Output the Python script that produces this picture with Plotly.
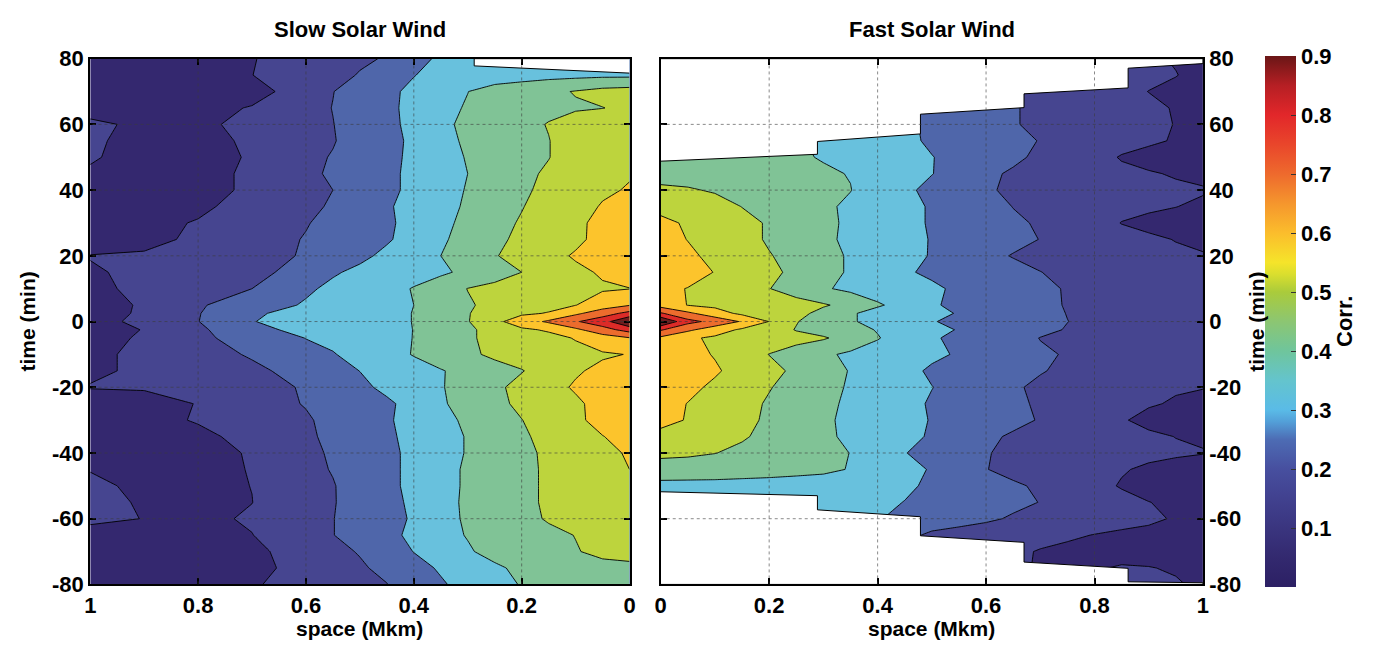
import plotly.graph_objects as go

# ---------------------------------------------------------------------------
# Space-time correlation maps of solar-wind fluctuations
# rows: time lag (min), columns: spatial separation (Mkm)
# ---------------------------------------------------------------------------
lag_min = [80, 75, 70, 65, 60, 55, 50, 45, 40, 35, 30, 25, 20, 15, 10, 5, 2.5, 0,
           -2.5, -5, -10, -15, -20, -25, -30, -35, -40, -45, -50, -55, -60, -65,
           -70, -75, -80]

space_slow = [0, 0.05, 0.1, 0.15, 0.2, 0.25, 0.3, 0.35, 0.4, 0.45, 0.5, 0.55,
              0.6, 0.7, 0.8, 0.9, 1.0]

corr_slow = [
    [0.34, 0.34, 0.34, 0.34, 0.34, 0.34, 0.335, 0.32, 0.26, 0.205, 0.19, 0.17, 0.15, 0.095, 0.08, 0.07, 0.07],
    [0.38, 0.38, 0.375, 0.37, 0.365, 0.36, 0.35, 0.33, 0.297, 0.26, 0.204, 0.18, 0.15, 0.099, 0.08, 0.07, 0.07],
    [0.54, 0.53, 0.505, 0.48, 0.45, 0.43, 0.399, 0.37, 0.32, 0.28, 0.24, 0.198, 0.14, 0.07, 0.06, 0.06, 0.06],
    [0.52, 0.498, 0.49, 0.475, 0.455, 0.43, 0.406, 0.38, 0.325, 0.28, 0.24, 0.202, 0.17, 0.105, 0.075, 0.07, 0.08],
    [0.58, 0.565, 0.54, 0.505, 0.47, 0.44, 0.415, 0.385, 0.32, 0.28, 0.24, 0.198, 0.175, 0.12, 0.085, 0.09, 0.11],
    [0.6, 0.58, 0.55, 0.497, 0.47, 0.44, 0.41, 0.38, 0.315, 0.275, 0.235, 0.195, 0.17, 0.11, 0.08, 0.085, 0.107],
    [0.6, 0.58, 0.55, 0.497, 0.47, 0.44, 0.405, 0.37, 0.315, 0.28, 0.24, 0.205, 0.18, 0.105, 0.08, 0.085, 0.104],
    [0.595, 0.58, 0.555, 0.515, 0.475, 0.445, 0.4, 0.365, 0.32, 0.28, 0.245, 0.213, 0.18, 0.11, 0.08, 0.07, 0.095],
    [0.605, 0.59, 0.565, 0.53, 0.48, 0.45, 0.405, 0.37, 0.32, 0.28, 0.24, 0.2, 0.175, 0.11, 0.08, 0.07, 0.065],
    [0.63, 0.605, 0.575, 0.545, 0.495, 0.455, 0.41, 0.375, 0.33, 0.29, 0.25, 0.21, 0.18, 0.13, 0.085, 0.07, 0.065],
    [0.65, 0.62, 0.585, 0.55, 0.51, 0.465, 0.42, 0.38, 0.33, 0.285, 0.255, 0.225, 0.195, 0.15, 0.105, 0.08, 0.07],
    [0.66, 0.63, 0.58, 0.55, 0.52, 0.48, 0.425, 0.39, 0.335, 0.29, 0.26, 0.23, 0.205, 0.16, 0.11, 0.085, 0.07],
    [0.67, 0.645, 0.61, 0.57, 0.53, 0.495, 0.44, 0.4, 0.37, 0.32, 0.28, 0.25, 0.21, 0.16, 0.125, 0.106, 0.102],
    [0.64, 0.61, 0.58, 0.545, 0.5, 0.46, 0.42, 0.385, 0.365, 0.345, 0.32, 0.29, 0.24, 0.17, 0.13, 0.11, 0.095],
    [0.598, 0.59, 0.575, 0.56, 0.54, 0.525, 0.502, 0.45, 0.405, 0.37, 0.345, 0.32, 0.285, 0.2, 0.16, 0.115, 0.085],
    [0.695, 0.65, 0.598, 0.575, 0.555, 0.525, 0.49, 0.445, 0.4, 0.37, 0.35, 0.33, 0.31, 0.25, 0.19, 0.104, 0.085],
    [0.83, 0.755, 0.68, 0.605, 0.585, 0.545, 0.495, 0.45, 0.402, 0.38, 0.36, 0.345, 0.325, 0.29, 0.195, 0.105, 0.085],
    [1.0, 0.86, 0.79, 0.715, 0.65, 0.575, 0.495, 0.45, 0.402, 0.38, 0.365, 0.35, 0.335, 0.297, 0.198, 0.107, 0.09],
    [0.84, 0.76, 0.68, 0.61, 0.585, 0.54, 0.48, 0.445, 0.401, 0.38, 0.36, 0.345, 0.32, 0.28, 0.18, 0.101, 0.088],
    [0.695, 0.655, 0.605, 0.575, 0.555, 0.53, 0.485, 0.44, 0.402, 0.37, 0.345, 0.32, 0.302, 0.24, 0.18, 0.105, 0.085],
    [0.603, 0.59, 0.575, 0.56, 0.545, 0.52, 0.48, 0.44, 0.405, 0.365, 0.33, 0.295, 0.27, 0.21, 0.16, 0.115, 0.085],
    [0.645, 0.62, 0.59, 0.545, 0.495, 0.46, 0.425, 0.395, 0.365, 0.34, 0.301, 0.27, 0.235, 0.18, 0.135, 0.11, 0.09],
    [0.67, 0.645, 0.61, 0.57, 0.53, 0.48, 0.43, 0.395, 0.37, 0.32, 0.28, 0.25, 0.21, 0.16, 0.125, 0.105, 0.103],
    [0.66, 0.63, 0.585, 0.55, 0.52, 0.475, 0.43, 0.39, 0.33, 0.285, 0.26, 0.23, 0.205, 0.16, 0.102, 0.08, 0.07],
    [0.655, 0.625, 0.585, 0.545, 0.498, 0.46, 0.415, 0.375, 0.33, 0.29, 0.255, 0.225, 0.19, 0.145, 0.105, 0.08, 0.07],
    [0.625, 0.598, 0.57, 0.53, 0.485, 0.45, 0.405, 0.37, 0.325, 0.285, 0.25, 0.22, 0.185, 0.12, 0.085, 0.07, 0.065],
    [0.604, 0.59, 0.56, 0.515, 0.48, 0.445, 0.405, 0.37, 0.32, 0.28, 0.245, 0.21, 0.18, 0.105, 0.08, 0.07, 0.065],
    [0.6, 0.585, 0.555, 0.515, 0.475, 0.44, 0.41, 0.375, 0.32, 0.28, 0.245, 0.205, 0.175, 0.103, 0.08, 0.085, 0.098],
    [0.6, 0.585, 0.555, 0.515, 0.475, 0.44, 0.41, 0.375, 0.32, 0.28, 0.24, 0.195, 0.17, 0.101, 0.08, 0.09, 0.11],
    [0.6, 0.585, 0.555, 0.515, 0.475, 0.44, 0.41, 0.38, 0.315, 0.275, 0.235, 0.195, 0.17, 0.099, 0.08, 0.095, 0.115],
    [0.59, 0.58, 0.55, 0.508, 0.475, 0.44, 0.41, 0.375, 0.31, 0.27, 0.235, 0.198, 0.175, 0.11, 0.08, 0.098, 0.12],
    [0.56, 0.54, 0.502, 0.48, 0.46, 0.435, 0.405, 0.37, 0.32, 0.275, 0.235, 0.198, 0.17, 0.098, 0.08, 0.07, 0.065],
    [0.53, 0.52, 0.495, 0.47, 0.45, 0.43, 0.39, 0.35, 0.302, 0.255, 0.205, 0.18, 0.14, 0.08, 0.07, 0.065, 0.065],
    [0.48, 0.475, 0.465, 0.45, 0.42, 0.385, 0.35, 0.31, 0.27, 0.22, 0.19, 0.17, 0.13, 0.075, 0.065, 0.065, 0.065],
    [0.46, 0.45, 0.44, 0.425, 0.405, 0.37, 0.33, 0.29, 0.25, 0.198, 0.18, 0.16, 0.14, 0.09, 0.07, 0.07, 0.07],
]

space_fast = [0, 0.05, 0.1, 0.15, 0.2, 0.25, 0.3, 0.35, 0.4, 0.45, 0.5, 0.55,
              0.6, 0.65, 0.7, 0.75, 0.8, 0.85, 0.9, 0.95, 1.0]

corr_fast = [
    [0.44, 0.44, 0.43, 0.42, 0.41, 0.4, 0.37, 0.35, 0.33, 0.31, 0.29, 0.27, 0.24, 0.2, 0.18, 0.165, 0.15, 0.13, 0.11, 0.095, 0.08],
    [0.44, 0.44, 0.43, 0.42, 0.41, 0.4, 0.37, 0.35, 0.33, 0.31, 0.29, 0.27, 0.24, 0.2, 0.18, 0.165, 0.15, 0.13, 0.115, 0.102, 0.08],
    [0.44, 0.44, 0.43, 0.42, 0.41, 0.4, 0.37, 0.35, 0.33, 0.31, 0.29, 0.27, 0.24, 0.2, 0.18, 0.16, 0.14, 0.12, 0.099, 0.085, 0.075],
    [0.44, 0.44, 0.43, 0.42, 0.41, 0.4, 0.37, 0.35, 0.33, 0.31, 0.29, 0.27, 0.24, 0.205, 0.185, 0.165, 0.145, 0.13, 0.115, 0.095, 0.075],
    [0.44, 0.44, 0.43, 0.42, 0.41, 0.4, 0.37, 0.35, 0.33, 0.31, 0.29, 0.27, 0.245, 0.205, 0.185, 0.165, 0.145, 0.13, 0.115, 0.098, 0.08],
    [0.44, 0.44, 0.43, 0.42, 0.415, 0.41, 0.38, 0.36, 0.34, 0.315, 0.29, 0.27, 0.255, 0.235, 0.195, 0.165, 0.14, 0.125, 0.11, 0.095, 0.075],
    [0.44, 0.44, 0.43, 0.42, 0.415, 0.41, 0.395, 0.37, 0.35, 0.33, 0.302, 0.28, 0.26, 0.215, 0.185, 0.155, 0.125, 0.095, 0.08, 0.07, 0.065],
    [0.46, 0.455, 0.45, 0.44, 0.43, 0.42, 0.41, 0.397, 0.37, 0.335, 0.302, 0.27, 0.215, 0.19, 0.17, 0.15, 0.13, 0.115, 0.105, 0.095, 0.085],
    [0.52, 0.51, 0.49, 0.475, 0.46, 0.445, 0.43, 0.402, 0.355, 0.315, 0.28, 0.25, 0.21, 0.185, 0.165, 0.15, 0.14, 0.13, 0.12, 0.11, 0.105],
    [0.575, 0.56, 0.54, 0.498, 0.47, 0.445, 0.415, 0.385, 0.36, 0.33, 0.29, 0.26, 0.235, 0.198, 0.17, 0.15, 0.135, 0.12, 0.11, 0.101, 0.09],
    [0.62, 0.59, 0.56, 0.53, 0.49, 0.455, 0.42, 0.385, 0.36, 0.33, 0.29, 0.265, 0.24, 0.215, 0.19, 0.16, 0.13, 0.098, 0.085, 0.08, 0.075],
    [0.63, 0.598, 0.565, 0.53, 0.49, 0.455, 0.415, 0.385, 0.36, 0.33, 0.295, 0.27, 0.245, 0.225, 0.198, 0.17, 0.145, 0.125, 0.11, 0.098, 0.085],
    [0.64, 0.615, 0.58, 0.545, 0.505, 0.47, 0.43, 0.39, 0.36, 0.325, 0.295, 0.26, 0.225, 0.195, 0.17, 0.15, 0.135, 0.125, 0.115, 0.11, 0.105],
    [0.65, 0.625, 0.598, 0.56, 0.52, 0.48, 0.43, 0.39, 0.35, 0.31, 0.285, 0.265, 0.25, 0.23, 0.202, 0.175, 0.155, 0.14, 0.13, 0.12, 0.11],
    [0.615, 0.598, 0.57, 0.54, 0.502, 0.465, 0.41, 0.38, 0.36, 0.34, 0.315, 0.285, 0.26, 0.24, 0.215, 0.195, 0.17, 0.15, 0.135, 0.125, 0.115],
    [0.66, 0.597, 0.58, 0.56, 0.545, 0.53, 0.51, 0.47, 0.41, 0.37, 0.31, 0.28, 0.26, 0.24, 0.22, 0.195, 0.17, 0.15, 0.135, 0.125, 0.115],
    [0.81, 0.72, 0.64, 0.58, 0.56, 0.53, 0.47, 0.41, 0.37, 0.345, 0.32, 0.295, 0.27, 0.25, 0.225, 0.198, 0.175, 0.155, 0.14, 0.13, 0.12],
    [1.0, 0.83, 0.77, 0.69, 0.598, 0.505, 0.45, 0.41, 0.37, 0.34, 0.305, 0.28, 0.26, 0.24, 0.22, 0.201, 0.18, 0.16, 0.145, 0.13, 0.12],
    [0.81, 0.72, 0.645, 0.585, 0.55, 0.495, 0.46, 0.43, 0.395, 0.36, 0.325, 0.295, 0.27, 0.25, 0.22, 0.195, 0.175, 0.155, 0.14, 0.13, 0.12],
    [0.68, 0.615, 0.585, 0.565, 0.55, 0.53, 0.51, 0.46, 0.405, 0.36, 0.31, 0.28, 0.255, 0.23, 0.198, 0.18, 0.165, 0.15, 0.14, 0.13, 0.12],
    [0.65, 0.625, 0.595, 0.55, 0.498, 0.46, 0.415, 0.385, 0.365, 0.345, 0.32, 0.29, 0.265, 0.24, 0.21, 0.195, 0.175, 0.155, 0.14, 0.13, 0.12],
    [0.66, 0.635, 0.61, 0.57, 0.53, 0.48, 0.44, 0.395, 0.365, 0.33, 0.285, 0.26, 0.24, 0.225, 0.205, 0.185, 0.165, 0.15, 0.135, 0.12, 0.11],
    [0.65, 0.62, 0.585, 0.545, 0.505, 0.465, 0.43, 0.39, 0.365, 0.335, 0.302, 0.27, 0.24, 0.21, 0.185, 0.16, 0.14, 0.125, 0.115, 0.105, 0.102],
    [0.63, 0.598, 0.565, 0.53, 0.49, 0.455, 0.42, 0.385, 0.36, 0.33, 0.29, 0.265, 0.24, 0.215, 0.19, 0.165, 0.14, 0.12, 0.105, 0.095, 0.085],
    [0.625, 0.595, 0.56, 0.525, 0.485, 0.45, 0.415, 0.38, 0.36, 0.33, 0.295, 0.27, 0.245, 0.22, 0.195, 0.165, 0.135, 0.105, 0.085, 0.075, 0.07],
    [0.575, 0.56, 0.54, 0.51, 0.475, 0.445, 0.415, 0.385, 0.36, 0.325, 0.29, 0.255, 0.215, 0.19, 0.17, 0.15, 0.135, 0.12, 0.11, 0.099, 0.095],
    [0.52, 0.515, 0.502, 0.48, 0.465, 0.45, 0.435, 0.398, 0.355, 0.303, 0.27, 0.24, 0.205, 0.18, 0.16, 0.145, 0.135, 0.125, 0.115, 0.108, 0.102],
    [0.46, 0.455, 0.45, 0.445, 0.44, 0.43, 0.42, 0.395, 0.37, 0.34, 0.29, 0.245, 0.202, 0.18, 0.16, 0.14, 0.12, 0.105, 0.09, 0.08, 0.075],
    [0.37, 0.37, 0.37, 0.365, 0.36, 0.355, 0.35, 0.34, 0.33, 0.315, 0.285, 0.26, 0.235, 0.21, 0.19, 0.155, 0.12, 0.095, 0.08, 0.075, 0.07],
    [0.36, 0.36, 0.36, 0.355, 0.35, 0.345, 0.34, 0.33, 0.32, 0.298, 0.275, 0.255, 0.235, 0.22, 0.198, 0.17, 0.145, 0.12, 0.101, 0.09, 0.08],
    [0.35, 0.35, 0.35, 0.345, 0.34, 0.335, 0.33, 0.32, 0.305, 0.28, 0.26, 0.24, 0.215, 0.19, 0.17, 0.15, 0.135, 0.12, 0.11, 0.095, 0.085],
    [0.35, 0.35, 0.35, 0.345, 0.34, 0.33, 0.32, 0.302, 0.27, 0.23, 0.18, 0.16, 0.15, 0.14, 0.125, 0.11, 0.098, 0.09, 0.085, 0.08, 0.075],
    [0.35, 0.35, 0.35, 0.345, 0.34, 0.33, 0.32, 0.3, 0.27, 0.23, 0.17, 0.15, 0.135, 0.115, 0.095, 0.085, 0.08, 0.08, 0.08, 0.08, 0.075],
    [0.35, 0.35, 0.35, 0.345, 0.34, 0.33, 0.32, 0.3, 0.27, 0.23, 0.18, 0.16, 0.14, 0.12, 0.09, 0.09, 0.095, 0.105, 0.102, 0.095, 0.085],
    [0.35, 0.35, 0.35, 0.345, 0.34, 0.33, 0.32, 0.3, 0.27, 0.23, 0.18, 0.16, 0.14, 0.12, 0.09, 0.09, 0.098, 0.11, 0.11, 0.105, 0.09],
]

# limits of the lag range with valid samples (outside them no correlation exists)
slow_edge_space = [0, 0.288, 0.288]
slow_top_lag = [75.6, 77.8, 80]

fast_edge_space = [0, 0.289, 0.289, 0.479, 0.479, 0.67, 0.67, 0.862, 0.862, 1.0]
fast_top_lag = [48.8, 50.9, 54.8, 57.1, 63.1, 65.1, 69.3, 71.1, 77.1, 78.5]
fast_bottom_lag = [-51.8, -53.0, -57.3, -59.4, -65.2, -67.2, -73.2, -75.1, -79.2, -79.5]

space_ticks = [0, 0.2, 0.4, 0.6, 0.8, 1.0]
space_ticktext = ["0", "0.2", "0.4", "0.6", "0.8", "1"]
lag_ticks = [-80, -60, -40, -20, 0, 20, 40, 60, 80]
lag_ticktext = ["-80", "-60", "-40", "-20", "0", "20", "40", "60", "80"]
corr_ticks = [0.1, 0.2, 0.3, 0.4, 0.5, 0.6, 0.7, 0.8, 0.9]
corr_ticktext = ["0.1", "0.2", "0.3", "0.4", "0.5", "0.6", "0.7", "0.8", "0.9"]

# filled-contour band colours (band k spans k/10 .. (k+1)/10)
band_colors = ["#34286f", "#464590", "#4f66aa", "#68c1dd", "#80c396",
               "#bdd43d", "#fcc42c", "#ec6c2d", "#dc2b28", "#6e1d1e"]
band_scale = [[k / 9, c] for k, c in enumerate(band_colors)]

# continuous colour bar
bar_scale = [
    [0.0, "#2c2064"], [0.0556, "#33296f"], [0.1111, "#3a357f"], [0.1667, "#41418f"],
    [0.2222, "#474f9f"], [0.2778, "#4d6cb4"], [0.3111, "#539fd8"], [0.3333, "#5abbe7"],
    [0.3889, "#64c4cd"], [0.4444, "#6fc59c"], [0.5, "#8cc672"], [0.5556, "#aacb3b"],
    [0.5889, "#dade2e"], [0.6111, "#f5e42a"], [0.6667, "#fbbd2c"], [0.7222, "#f5962d"],
    [0.7778, "#ee6a2d"], [0.8333, "#e9462b"], [0.8889, "#e2272a"], [0.9444, "#b61f24"],
    [1.0, "#6a1616"],
]

FONT = "Liberation Sans, Arial, Helvetica, sans-serif"
W, H = 1373, 659

# plot-area geometry in pixels
left_x0, left_x1 = 85, 629
right_x0, right_x1 = 660.5, 1207.5
plot_top, plot_bottom = 48.5, 595

fig = go.Figure()

contour_common = dict(
    y=lag_min,
    autocontour=False,
    contours=dict(start=0.1, end=0.9, size=0.1, coloring="fill", showlines=True),
    line=dict(color="black", width=0.9, smoothing=0),
    colorscale=band_scale,
    showscale=False,
    hoverinfo="skip",
)

fig.add_trace(go.Contour(x=space_slow, z=corr_slow, xaxis="x", yaxis="y", **contour_common))
fig.add_trace(go.Contour(x=space_fast, z=corr_fast, xaxis="x2", yaxis="y2", **contour_common))

mask_style = dict(mode="lines", fill="toself", fillcolor="white",
                  line=dict(color="black", width=1), hoverinfo="skip", showlegend=False)

# empty corner of the slow-wind map
fig.add_trace(go.Scatter(x=slow_edge_space + [0], y=slow_top_lag + [80],
                         xaxis="x", yaxis="y", **mask_style))
# empty regions above and below the fast-wind map
fig.add_trace(go.Scatter(x=fast_edge_space + [1.0, 0], y=fast_top_lag + [80, 80],
                         xaxis="x2", yaxis="y2", **mask_style))
fig.add_trace(go.Scatter(x=fast_edge_space + [1.0, 0], y=fast_bottom_lag + [-80, -80],
                         xaxis="x2", yaxis="y2", **mask_style))

# colour bar carrier
fig.add_trace(go.Scatter(
    x=[None], y=[None], mode="markers", xaxis="x2", yaxis="y2",
    hoverinfo="skip", showlegend=False,
    marker=dict(
        color=[0], cmin=0, cmax=0.9, colorscale=bar_scale, showscale=True,
        colorbar=dict(
            x=1270 / W, xanchor="left", xpad=0, ypad=0,
            y=1 - (46 + 598) / 2 / H, yanchor="middle",
            len=(598 - 46) / H, lenmode="fraction",
            thickness=31, thicknessmode="pixels",
            outlinewidth=0,
            tickmode="array", tickvals=corr_ticks, ticktext=corr_ticktext,
            ticks="inside", ticklen=5, tickwidth=1, tickcolor="#333333",
            tickfont=dict(family=FONT, size=22, color="black", weight="bold"),
        ),
    ),
))

tickfont = dict(family=FONT, size=22, color="black", weight="bold")
ydom = [1 - plot_bottom / H, 1 - plot_top / H]

axis_common = dict(
    showline=True, linewidth=2, linecolor="black", mirror="ticks",
    ticks="inside", ticklen=6, tickwidth=2, tickcolor="black",
    showgrid=False, zeroline=False, tickfont=tickfont, layer="above traces",
)

fig.update_layout(
    width=W, height=H,
    margin=dict(l=0, r=0, t=0, b=0),
    paper_bgcolor="white", plot_bgcolor="white",
    showlegend=False,
    xaxis=dict(domain=[left_x0 / W, left_x1 / W], range=[1, 0], anchor="y",
               tickmode="array", tickvals=space_ticks, ticktext=space_ticktext,
               **axis_common),
    yaxis=dict(domain=ydom, range=[-80, 80], anchor="x",
               tickmode="array", tickvals=lag_ticks, ticktext=lag_ticktext,
               **axis_common),
    xaxis2=dict(domain=[right_x0 / W, right_x1 / W], range=[0, 1], anchor="y2",
                tickmode="array", tickvals=space_ticks, ticktext=space_ticktext,
                **axis_common),
    yaxis2=dict(domain=ydom, range=[-80, 80], anchor="x2", side="right",
                tickmode="array", tickvals=lag_ticks, ticktext=lag_ticktext,
                **axis_common),
)

# dotted grid drawn over the filled contours
grid_line = dict(color="rgba(60,60,60,0.6)", width=1, dash="dot")
shapes = []
for xr, yr in (("x", "y"), ("x2", "y2")):
    for gx in space_ticks[1:-1]:
        shapes.append(dict(type="line", xref=xr, yref=yr, x0=gx, x1=gx, y0=-80, y1=80,
                           line=grid_line, layer="above"))
    for gy in lag_ticks[1:-1]:
        shapes.append(dict(type="line", xref=xr, yref=yr, x0=0, x1=1, y0=gy, y1=gy,
                           line=grid_line, layer="above"))
fig.update_layout(shapes=shapes)

label_font = dict(family=FONT, size=21, color="black", weight="bold")
title_font = dict(family=FONT, size=22, color="black", weight="bold")


def paper_note(text, px, py, font, angle=0):
    return dict(text=text, x=px / W, y=1 - py / H, xref="paper", yref="paper",
                showarrow=False, font=font, textangle=angle,
                xanchor="center", yanchor="middle")


fig.update_layout(annotations=[
    paper_note("Slow Solar Wind", (left_x0 + left_x1) / 2, 18, title_font),
    paper_note("Fast Solar Wind", (right_x0 + right_x1) / 2, 18, title_font),
    paper_note("space (Mkm)", (left_x0 + left_x1) / 2, 641, label_font),
    paper_note("space (Mkm)", (right_x0 + right_x1) / 2, 641, label_font),
    paper_note("time (min)", 22, 322, label_font, -90),
    paper_note("time (min)", 1262, 322, label_font, -90),
    paper_note("Corr.", 1351, 322, title_font, -90),
])

fig.write_html("out.html")
